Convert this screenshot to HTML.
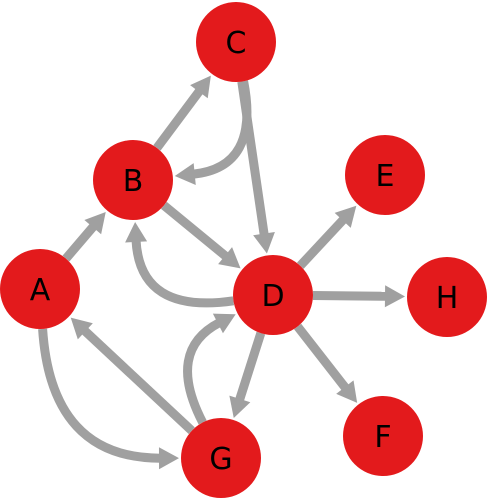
<!DOCTYPE html>
<html><head><meta charset="utf-8"><style>
html,body{margin:0;padding:0;background:#fff;}
svg{display:block;}
</style></head><body>
<svg id="g" width="489" height="500" viewBox="0 0 489 500" xmlns="http://www.w3.org/2000/svg"></svg>
<script>
const nodeNames = ["A","B","C","D","E","F","G","H"];
const nodeX = [40,133,236,273,385,383,221,447];
const nodeY = [289,180,42,295,175,436,458,297];
const edgeFrom = ["A","B","C","C","B","D","D","D","D","D","G","G","A"];
const edgeTo   = ["B","C","B","D","D","B","E","H","F","G","D","A","G"];
const edgeBend = [0,0,-0.55,0,0,-0.55,0,0,0,0,-0.5,0,0.47];
const R = 40;
const NS = "http://www.w3.org/2000/svg";
const svg = document.getElementById("g");
function pos(n){const i=nodeNames.indexOf(n);return [nodeX[i],nodeY[i]];}
const edgeLayer=document.createElementNS(NS,"g");
svg.appendChild(edgeLayer);
for(let k=0;k<edgeFrom.length;k++){
  const [x1,y1]=pos(edgeFrom[k]), [x2,y2]=pos(edgeTo[k]);
  const dx=x2-x1, dy=y2-y1;
  const mx=(x1+x2)/2, my=(y1+y2)/2;
  const cx=mx+(-dy)*edgeBend[k], cy=my+dx*edgeBend[k];
  let ux=x2-cx, uy=y2-cy; let ul=Math.hypot(ux,uy); ux/=ul; uy/=ul;
  let sx=cx-x1, sy=cy-y1; let sl=Math.hypot(sx,sy); sx/=sl; sy/=sl;
  const startX=x1+sx*R, startY=y1+sy*R;
  const tipX=x2-ux*(R+2), tipY=y2-uy*(R+2);
  const AL=20, AW=11;
  const bX=tipX-ux*AL, bY=tipY-uy*AL;
  const p=document.createElementNS(NS,"path");
  p.setAttribute("d",`M${startX},${startY} Q${cx},${cy} ${bX+ux*2},${bY+uy*2}`);
  p.setAttribute("fill","none");p.setAttribute("stroke","#a0a0a0");p.setAttribute("stroke-width","9");
  
  
  edgeLayer.appendChild(p);
  const a=document.createElementNS(NS,"polygon");
  a.setAttribute("points",`${tipX},${tipY} ${bX-uy*AW},${bY+ux*AW} ${bX+uy*AW},${bY-ux*AW}`);
  a.setAttribute("fill","#a0a0a0");
  
  
  edgeLayer.appendChild(a);
}
for(let i=0;i<nodeNames.length;i++){
  const g=document.createElementNS(NS,"g");
  
  
  const c=document.createElementNS(NS,"circle");
  c.setAttribute("cx",nodeX[i]);c.setAttribute("cy",nodeY[i]);c.setAttribute("r",R);
  c.setAttribute("fill","#e31a1c");
  g.appendChild(c);
  const t=document.createElementNS(NS,"text");
  t.setAttribute("x",nodeX[i]);t.setAttribute("y",nodeY[i]+11);
  t.setAttribute("text-anchor","middle");
  t.setAttribute("font-family","DejaVu Sans, sans-serif");
  t.setAttribute("font-size","30");t.setAttribute("fill","#000");
  t.textContent=nodeNames[i];
  
  
  g.appendChild(t);
  svg.appendChild(g);
}
</script>
</body></html>
